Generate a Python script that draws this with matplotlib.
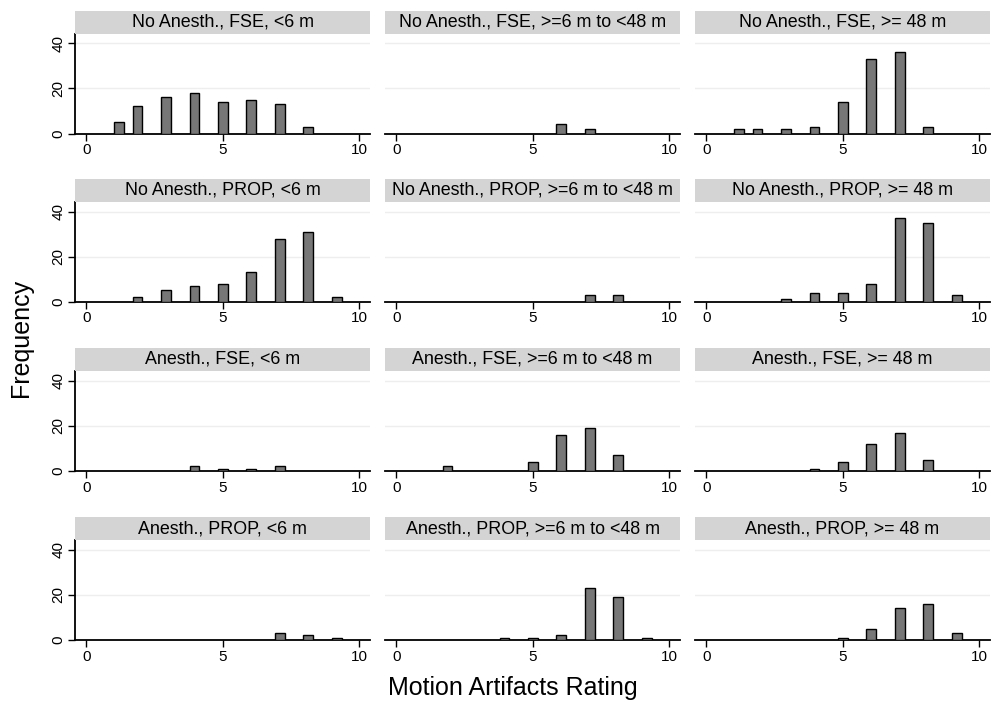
import matplotlib
matplotlib.use("Agg")
import numpy as np
import matplotlib.pyplot as plt

# bin centres (rating) as they appear in the figure
BIN_X = [1.2, 1.87, 2.92, 3.96, 5.02, 6.05, 7.09, 8.14, 9.18]

ANESTH = ["No Anesth.", "Anesth."]
SEQ = ["FSE", "PROP"]
AGE = ["<6 m", ">=6 m to <48 m", ">= 48 m"]

# frequencies per panel, row by row (anesth x seq), columns = age group
NA_FSE_LT6 = [5, 12, 16, 18, 14, 15, 13, 3, 0]
NA_FSE_6_48 = [0, 0, 0, 0, 0, 4, 2, 0, 0]
NA_FSE_GE48 = [2, 2, 2, 3, 14, 33, 36, 3, 0]
NA_PROP_LT6 = [0, 2, 5, 7, 8, 13, 28, 31, 2]
NA_PROP_6_48 = [0, 0, 0, 0, 0, 0, 3, 3, 0]
NA_PROP_GE48 = [0, 0, 1, 4, 4, 8, 37, 35, 3]
A_FSE_LT6 = [0, 0, 0, 2, 1, 1, 2, 0, 0]
A_FSE_6_48 = [0, 2, 0, 0, 4, 16, 19, 7, 0]
A_FSE_GE48 = [0, 0, 0, 1, 4, 12, 17, 5, 0]
A_PROP_LT6 = [0, 0, 0, 0, 0, 0, 3, 2, 1]
A_PROP_6_48 = [0, 0, 0, 1, 1, 2, 23, 19, 1]
A_PROP_GE48 = [0, 0, 0, 0, 1, 5, 14, 16, 3]

COUNTS = [
    [NA_FSE_LT6, NA_FSE_6_48, NA_FSE_GE48],
    [NA_PROP_LT6, NA_PROP_6_48, NA_PROP_GE48],
    [A_FSE_LT6, A_FSE_6_48, A_FSE_GE48],
    [A_PROP_LT6, A_PROP_6_48, A_PROP_GE48],
]
TITLES = [[f"{a}, {s}, {g}" for g in AGE] for a in ANESTH for s in SEQ]

plt.rcParams["font.family"] = ["Liberation Sans", "DejaVu Sans"]

W, H = 1000, 701
fig = plt.figure(figsize=(W / 100, H / 100), dpi=100)

col_left = [75, 385, 695]
col_w = 295
row_bottom = [133.5, 301.7, 471, 640]   # pixel y of zero line
ax_h = 100
strip_h = 23

bar_col = "#777777"
strip_col = "#d4d4d4"

for r in range(4):
    for c in range(3):
        x0 = col_left[c]
        yb = row_bottom[r]
        ax = fig.add_axes([x0 / W, 1 - yb / H, col_w / W, ax_h / H])
        vals = np.array(COUNTS[r][c], dtype=float)
        xs = np.array(BIN_X)
        m = vals > 0
        ax.bar(xs[m], vals[m], width=0.36, color=bar_col, edgecolor="black",
               linewidth=1.0, zorder=3)
        ax.set_xlim(-0.42, 10.4)
        ax.set_ylim(0, 44.4)
        for yy in (20, 40):
            ax.axhline(yy, color="#eeeeee", lw=1.0, zorder=1)
        for s in ("top", "right"):
            ax.spines[s].set_visible(False)
        ax.spines["bottom"].set_linewidth(1.3)
        ax.spines["left"].set_linewidth(1.3)
        ax.set_xticks([0, 5, 10])
        ax.tick_params(axis="x", length=5, width=1, labelsize=11, pad=2)
        if c == 0:
            ax.set_yticks([0, 20, 40])
            ax.tick_params(axis="y", length=5, width=1, labelsize=11, pad=2)
            for lab in ax.get_yticklabels():
                lab.set_rotation(90)
                lab.set_va("center")
        else:
            ax.spines["left"].set_visible(False)
            ax.set_yticks([])

        # strip
        sax = fig.add_axes([x0 / W, 1 - (yb - ax_h) / H, col_w / W, strip_h / H])
        sax.set_facecolor(strip_col)
        for s in sax.spines.values():
            s.set_visible(False)
        sax.set_xticks([])
        sax.set_yticks([])
        sax.text(0.5, 0.5, TITLES[r][c], ha="center", va="center", fontsize=12.9,
                 transform=sax.transAxes)

fig.text(513 / W, 1 - 688 / H, "Motion Artifacts Rating", ha="center", va="center",
         fontsize=18)
fig.text(21 / W, 1 - 338 / H, "Frequency", ha="center", va="center", rotation=90,
         fontsize=18)

fig.savefig("out.png", dpi=100)
